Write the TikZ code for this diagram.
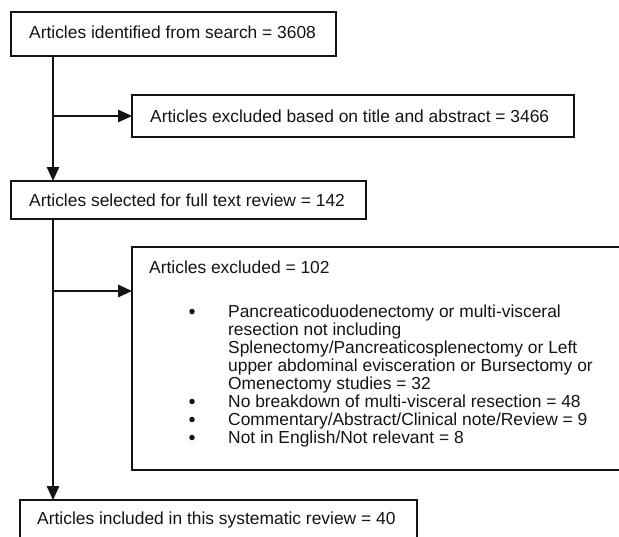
\documentclass[tikz,border=0pt]{standalone}
\usepackage{fontspec}
\setmainfont{Liberation Sans}
\usetikzlibrary{arrows.meta}
\definecolor{ink}{HTML}{141414}
\begin{document}
\begin{tikzpicture}[x=1pt,y=-1pt,
  box/.style={draw=ink, line width=1.4pt, rectangle, inner sep=0pt, outer sep=0pt, anchor=north west},
  lbl/.style={anchor=base west, inner sep=0pt, text=ink, font=\fontsize{17.4}{18}\selectfont},
  dot/.style={circle, fill=ink, inner sep=0pt, minimum size=5.5pt},
  arr/.style={line width=1.4pt, draw=ink, -{Triangle[length=14pt,width=12.5pt]}}]
\useasboundingbox (0,0) rectangle (619,536);
\clip (0,0) rectangle (619,536);
% boxes
\node[box, minimum width=325, minimum height=44] (b1) at (11,12) {};
\node[box, minimum width=442, minimum height=42] (b2) at (132,95) {};
\node[box, minimum width=355, minimum height=38] (b3) at (11,181) {};
\node[box, minimum width=500, minimum height=223] (b4) at (132,247) {};
\node[box, minimum width=397, minimum height=60] (b5) at (20,500) {};
% texts
\node[lbl] (t1) at (29,38) {Articles identified from search = 3608};
\node[lbl] (t2) at (150,122) {Articles excluded based on title and abstract = 3466};
\node[lbl] (t3) at (29,206) {Articles selected for full text review = 142};
\node[lbl] (t4) at (149,273) {Articles excluded = 102};
\node[dot] (d1) at (192,311.5) {};
\node[lbl] (l1) at (228,317) {Pancreaticoduodenectomy or multi-visceral};
\node[lbl] (l2) at (228,335) {resection not including};
\node[lbl] (l3) at (228,353) {Splenectomy/Pancreaticosplenectomy or Left};
\node[lbl] (l4) at (228,371) {upper abdominal evisceration or Bursectomy or};
\node[lbl] (l5) at (228,389) {Omenectomy studies = 32};
\node[dot] (d2) at (192,401.5) {};
\node[lbl] (l6) at (228,407) {No breakdown of multi-visceral resection = 48};
\node[dot] (d3) at (192,419.5) {};
\node[lbl] (l7) at (228,425) {Commentary/Abstract/Clinical note/Review = 9};
\node[dot] (d4) at (192,437.5) {};
\node[lbl] (l8) at (228,443) {Not in English/Not relevant = 8};
\node[lbl] (t5) at (37,524) {Articles included in this systematic review = 40};
% connectors
\coordinate (s) at (53,0);
\coordinate (j2) at (53,291);
\draw[arr] (b1.south -| s) -- (b3.north -| s);
\draw[arr] (b2.west -| s) -- (b2.west);
\draw[arr] (b3.south -| s) -- (b5.north -| s);
\draw[arr] (j2) -- (j2 -| b4.west);
\end{tikzpicture}
\end{document}
